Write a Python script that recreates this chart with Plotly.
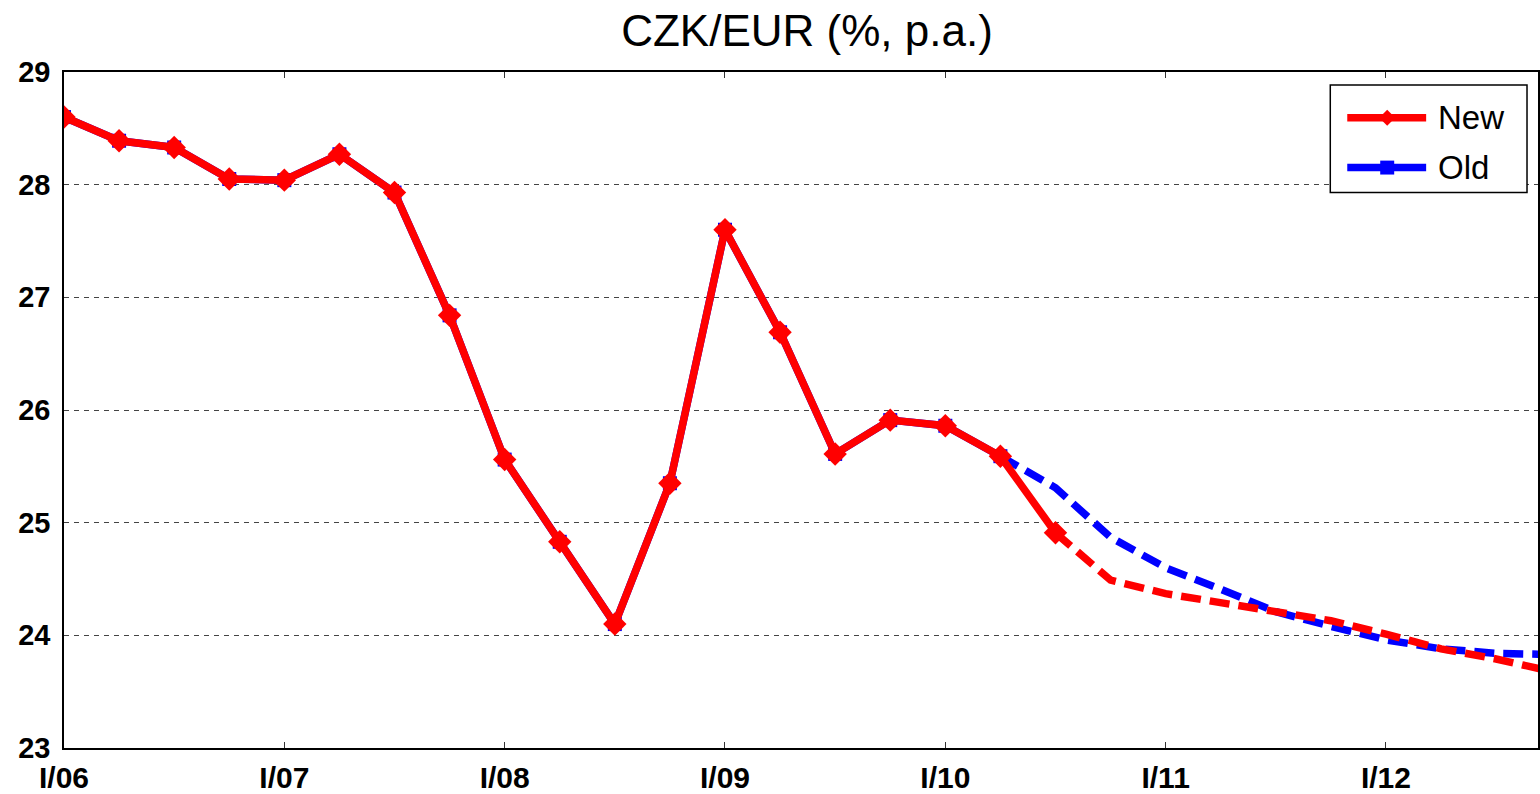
import plotly.graph_objects as go

# Quarterly CZK/EUR series, I/06 .. IV/12
quarters = [f"{q}/{y:02d}" for y in range(6, 13) for q in ("I", "II", "III", "IV")]

new_values = [28.60, 28.39, 28.33, 28.05, 28.04, 28.27, 27.93, 26.84,
              25.56, 24.83, 24.10, 25.35, 27.60, 26.69, 25.61, 25.91,
              25.86, 25.59, 24.91, 24.49, 24.37, 24.29, 24.22, 24.13,
              24.01, 23.88, 23.79, 23.68]
old_values = [28.60, 28.39, 28.33, 28.05, 28.04, 28.27, 27.93, 26.84,
              25.56, 24.83, 24.10, 25.35, 27.60, 26.69, 25.61, 25.91,
              25.86, 25.59, 25.31, 24.87, 24.60, 24.41, 24.21, 24.08,
              23.96, 23.88, 23.84, 23.83]

new_hist_len = 19   # observed points of the new series (through III/10)
old_hist_len = 18   # observed points of the old series (through II/10)

tick_labels = ["I/06", "I/07", "I/08", "I/09", "I/10", "I/11", "I/12"]
y_ticks = [23, 24, 25, 26, 27, 28, 29]

x_all = list(range(len(quarters)))
tick_positions = [quarters.index(t) for t in tick_labels]

RED = "#ff0000"
BLUE = "#0000ff"
FONT = "Liberation Sans, Arial, Helvetica"
W, H = 1540, 794
L, R, T, B = 64, 0, 72, 43
LINE_W = 7.5
DASH = "20px,9px"

fig = go.Figure()

# Old: observed (solid + squares) and forecast (dashed)
fig.add_trace(go.Scatter(
    x=x_all[old_hist_len - 1:], y=old_values[old_hist_len - 1:],
    mode="lines", line=dict(color=BLUE, width=LINE_W, dash=DASH),
    showlegend=False, hoverinfo="skip"))
fig.add_trace(go.Scatter(
    x=x_all[:old_hist_len], y=old_values[:old_hist_len],
    mode="lines+markers", name="Old",
    line=dict(color=BLUE, width=LINE_W),
    marker=dict(symbol="square", size=14, color=BLUE),
    showlegend=False))

# New: observed (solid + diamonds) and forecast (dashed)
fig.add_trace(go.Scatter(
    x=x_all[new_hist_len - 1:], y=new_values[new_hist_len - 1:],
    mode="lines", line=dict(color=RED, width=LINE_W, dash=DASH),
    showlegend=False, hoverinfo="skip"))
fig.add_trace(go.Scatter(
    x=x_all[:new_hist_len], y=new_values[:new_hist_len],
    mode="lines+markers", name="New",
    line=dict(color=RED, width=LINE_W),
    marker=dict(symbol="diamond", size=18, color=RED),
    showlegend=False))

plot_w = W - L - R
plot_h = H - T - B


def px_x(p):
    return (p - L) / plot_w


def px_y(p):
    return (H - B - p) / plot_h


# Legend box drawn in paper coordinates
shapes = [dict(type="rect", xref="paper", yref="paper",
               x0=px_x(1332), x1=px_x(1529), y0=px_y(193), y1=px_y(85),
               line=dict(color="black", width=1.5), fillcolor="white", layer="above")]
annotations = []
for label, color, ypix, symbol in [("New", RED, 118, "diamond"), ("Old", BLUE, 168, "square")]:
    shapes.append(dict(type="line", xref="paper", yref="paper",
                       x0=px_x(1349), x1=px_x(1428), y0=px_y(ypix), y1=px_y(ypix),
                       line=dict(color=color, width=LINE_W), layer="above"))
    cx = 1389
    if symbol == "diamond":
        d = 8
        path = (f"M {px_x(cx - d)} {px_y(ypix)} L {px_x(cx)} {px_y(ypix - d)} "
                f"L {px_x(cx + d)} {px_y(ypix)} L {px_x(cx)} {px_y(ypix + d)} Z")
    else:
        d = 7
        path = (f"M {px_x(cx - d)} {px_y(ypix - d)} L {px_x(cx + d)} {px_y(ypix - d)} "
                f"L {px_x(cx + d)} {px_y(ypix + d)} L {px_x(cx - d)} {px_y(ypix + d)} Z")
    shapes.append(dict(type="path", xref="paper", yref="paper", path=path,
                       fillcolor=color, line=dict(color=color, width=0), layer="above"))
    annotations.append(dict(x=px_x(1438), y=px_y(ypix), xref="paper", yref="paper",
                            text=label, showarrow=False, xanchor="left", yanchor="middle",
                            font=dict(family=FONT, size=33, color="black")))

fig.update_layout(
    width=W, height=H,
    margin=dict(l=L, r=R, t=T, b=B),
    paper_bgcolor="white", plot_bgcolor="white",
    title=dict(text="CZK/EUR (%, p.a.)", x=px_x(808), xref="paper", xanchor="center",
               y=1 - 31 / H, yanchor="middle",
               font=dict(family=FONT, size=44, color="black")),
    shapes=shapes, annotations=annotations,
    showlegend=False,
)

fig.update_xaxes(
    range=[0, 26.76],
    tickvals=tick_positions, ticktext=tick_labels,
    ticks="inside", ticklen=6, tickcolor="#333", tickwidth=1,
    showline=True, linecolor="black", linewidth=1.5, mirror="ticks",
    showgrid=False, zeroline=False, ticklabelstandoff=2,
    tickfont=dict(family=FONT, size=30, color="black", weight="bold"),
)
fig.update_yaxes(
    range=[23, 29], tickvals=y_ticks, ticktext=[str(v) for v in y_ticks],
    ticks="", showline=True, linecolor="black", linewidth=1.5, mirror=True,
    showgrid=True, gridcolor="#444444", gridwidth=1, griddash="5px,5px",
    zeroline=False, ticklabelstandoff=6,
    tickfont=dict(family=FONT, size=29, color="black", weight="bold"),
)

fig.write_html("out.html")
